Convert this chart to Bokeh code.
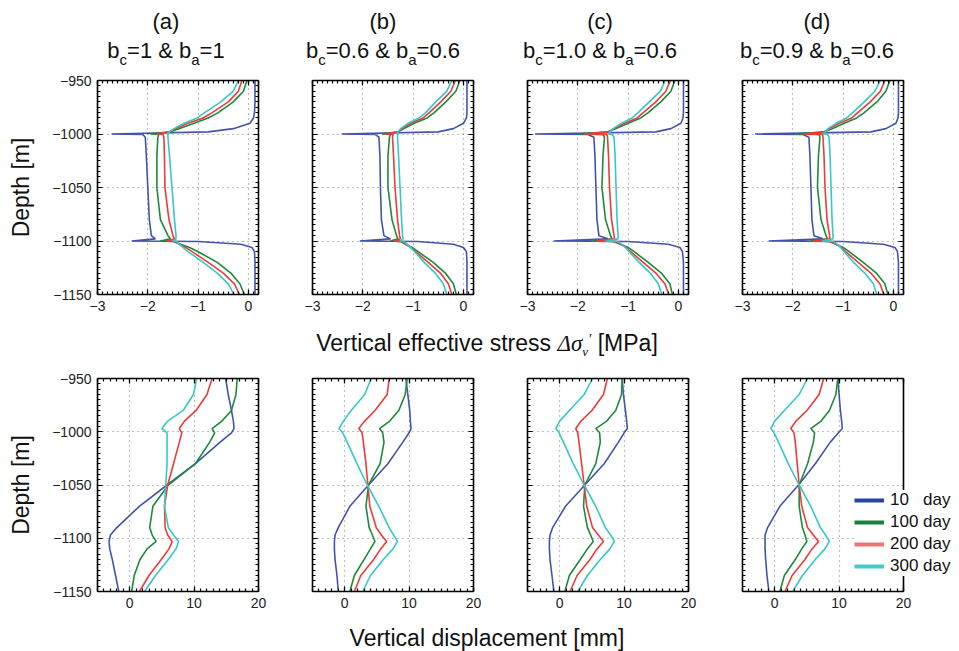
import numpy as np
from bokeh.plotting import figure
from bokeh.models import Range1d, LinearAxis, FixedTicker, Legend, LegendItem, Div, Span
from bokeh.layouts import column, row
from bokeh.embed import file_html
from bokeh.resources import INLINE

FONT = "Liberation Sans"

# ---------------- data ----------------
PANEL_TAGS = ["(a)", "(b)", "(c)", "(d)"]
BC_VALUES = ["1", "0.6", "1.0", "0.9"]
BA_VALUES = ["1", "0.6", "0.6", "0.6"]
DAY_LABELS = ["10   day", "100 day", "200 day", "300 day"]
COLORS = ["#4453aa", "#1d8a3b", "#ee3a3a", "#36c8c8"]
LEGEND_COLORS = ["#2446a0", "#17833a", "#f07474", "#48c9c9"]

Y_TICKS = [-1150, -1100, -1050, -1000, -950]
STRESS_TICKS = [-3, -2, -1, 0]
DISP_TICKS = [0, 10, 20]

# vertical effective stress [MPa] vs depth [m]
STRESS_DEPTH = [-950, -960, -970, -980, -985, -990, -995, -998, -1000, -1000.5, -1003, -1020, -1050,
                -1080, -1095, -1098, -1100, -1100.5, -1103, -1106, -1110, -1120, -1130, -1140, -1150]

stress_a_10 = [0.13, 0.13, 0.13, 0.12, 0.10, 0.03, -0.30, -0.80, -2.72, -2.10, -2.05, -2.03, -2.00,
               -1.97, -1.93, -1.85, -2.32, -1.00, -0.15, 0.07, 0.12, 0.13, 0.13, 0.13, 0.13]
stress_a_100 = [-0.03, -0.10, -0.30, -0.60, -0.80, -1.08, -1.38, -1.55, -1.95, -1.78, -1.80, -1.82, -1.82,
                -1.75, -1.60, -1.55, -1.75, -1.50, -1.35, -1.17, -1.00, -0.62, -0.35, -0.17, -0.08]
stress_a_200 = [-0.13, -0.20, -0.40, -0.72, -0.90, -1.20, -1.45, -1.58, -1.82, -1.70, -1.68, -1.67, -1.66,
                -1.58, -1.50, -1.47, -1.62, -1.45, -1.38, -1.25, -1.12, -0.80, -0.50, -0.28, -0.18]
stress_a_300 = [-0.20, -0.30, -0.55, -0.87, -1.02, -1.28, -1.48, -1.57, -1.62, -1.60, -1.60, -1.57, -1.52,
                -1.47, -1.44, -1.44, -1.50, -1.42, -1.38, -1.30, -1.20, -0.90, -0.62, -0.40, -0.29]

stress_b_10 = [0.07, 0.07, 0.07, 0.07, 0.06, 0.00, -0.20, -0.50, -2.42, -1.75, -1.68, -1.66, -1.65,
               -1.63, -1.58, -1.45, -2.06, -0.90, -0.20, 0.00, 0.06, 0.07, 0.07, 0.07, 0.07]
stress_b_100 = [-0.07, -0.15, -0.35, -0.58, -0.72, -0.98, -1.18, -1.30, -1.62, -1.45, -1.47, -1.50, -1.50,
                -1.42, -1.33, -1.30, -1.45, -1.25, -1.15, -1.02, -0.90, -0.60, -0.36, -0.20, -0.14]
stress_b_200 = [-0.16, -0.25, -0.45, -0.68, -0.80, -1.05, -1.22, -1.30, -1.55, -1.40, -1.41, -1.39, -1.36,
                -1.31, -1.27, -1.25, -1.38, -1.22, -1.15, -1.05, -0.95, -0.70, -0.46, -0.30, -0.23]
stress_b_300 = [-0.23, -0.33, -0.55, -0.75, -0.88, -1.10, -1.25, -1.30, -1.32, -1.31, -1.31, -1.29, -1.26,
                -1.23, -1.21, -1.20, -1.25, -1.18, -1.12, -1.05, -0.97, -0.78, -0.56, -0.40, -0.33]

stress_c_10 = [0.10, 0.10, 0.10, 0.10, 0.09, 0.05, -0.15, -0.45, -2.85, -1.80, -1.68, -1.66, -1.64,
               -1.62, -1.58, -1.40, -2.48, -1.00, -0.20, 0.03, 0.08, 0.10, 0.10, 0.10, 0.10]
stress_c_100 = [-0.07, -0.15, -0.35, -0.60, -0.75, -1.00, -1.25, -1.40, -2.00, -1.50, -1.47, -1.50, -1.52,
                -1.45, -1.35, -1.32, -1.70, -1.30, -1.15, -1.00, -0.88, -0.60, -0.34, -0.17, -0.12]
stress_c_200 = [-0.16, -0.25, -0.45, -0.70, -0.82, -1.07, -1.28, -1.38, -1.88, -1.42, -1.41, -1.39, -1.37,
                -1.33, -1.28, -1.27, -1.63, -1.25, -1.15, -1.05, -0.95, -0.70, -0.45, -0.27, -0.19]
stress_c_300 = [-0.26, -0.36, -0.58, -0.80, -0.92, -1.13, -1.30, -1.36, -1.40, -1.32, -1.28, -1.26, -1.24,
                -1.22, -1.20, -1.20, -1.45, -1.20, -1.13, -1.05, -0.98, -0.78, -0.56, -0.40, -0.33]

stress_d_10 = [0.10, 0.10, 0.10, 0.10, 0.09, 0.05, -0.15, -0.45, -2.75, -1.80, -1.68, -1.66, -1.64,
               -1.62, -1.58, -1.40, -2.48, -1.00, -0.20, 0.03, 0.08, 0.10, 0.10, 0.10, 0.10]
stress_d_100 = [-0.07, -0.15, -0.33, -0.58, -0.73, -0.98, -1.22, -1.38, -1.95, -1.48, -1.46, -1.49, -1.51,
                -1.44, -1.34, -1.31, -1.65, -1.28, -1.14, -1.00, -0.88, -0.60, -0.34, -0.17, -0.11]
stress_d_200 = [-0.17, -0.26, -0.46, -0.71, -0.83, -1.08, -1.28, -1.37, -1.80, -1.41, -1.40, -1.38, -1.36,
                -1.32, -1.27, -1.26, -1.60, -1.24, -1.14, -1.04, -0.95, -0.70, -0.45, -0.27, -0.19]
stress_d_300 = [-0.26, -0.37, -0.58, -0.81, -0.93, -1.14, -1.30, -1.35, -1.40, -1.31, -1.28, -1.26, -1.24,
                -1.22, -1.20, -1.20, -1.42, -1.19, -1.12, -1.05, -0.98, -0.79, -0.57, -0.40, -0.33]

# vertical displacement [mm] vs depth [m]
DISP_DEPTH = [-950, -965, -980, -990, -997, -1001, -1010, -1030, -1050, -1070, -1090, -1097, -1103,
              -1110, -1120, -1135, -1150]

disp_a_10 = [14.9, 15.3, 15.8, 16.1, 16.2, 15.8, 14.0, 10.2, 5.8, 1.5, -2.0, -3.0, -3.2, -3.1, -2.7, -2.2, -1.7]
disp_a_100 = [16.7, 16.5, 15.8, 14.3, 12.8, 13.2, 12.4, 10.2, 6.0, 3.6, 3.1, 3.5, 4.1, 2.7, 1.6, 0.7, 0.3]
disp_a_200 = [12.8, 12.0, 10.3, 8.5, 7.7, 8.1, 7.7, 6.8, 5.9, 5.4, 5.5, 5.9, 6.6, 6.1, 4.9, 3.0, 1.5]
disp_a_300 = [10.4, 9.9, 8.3, 5.9, 5.0, 5.8, 5.8, 5.8, 5.6, 5.4, 6.0, 6.8, 7.6, 7.2, 6.0, 4.0, 2.3]

disp_b_10 = [9.5, 9.8, 10.1, 10.2, 10.3, 10.0, 9.0, 6.7, 3.7, 0.8, -1.0, -1.5, -1.6, -1.6, -1.5, -1.2, -1.0]
disp_b_100 = [9.7, 9.4, 8.4, 7.0, 5.4, 5.9, 6.1, 5.5, 3.7, 3.3, 3.8, 4.3, 4.7, 4.0, 3.0, 1.5, 0.8]
disp_b_200 = [6.9, 6.6, 4.7, 3.1, 2.2, 2.7, 2.9, 3.3, 3.6, 3.9, 4.9, 5.7, 6.5, 5.6, 4.5, 2.5, 1.5]
disp_b_300 = [4.1, 3.1, 1.0, -0.2, -0.9, -0.3, 0.4, 1.9, 3.5, 5.3, 6.9, 7.6, 8.2, 7.5, 6.0, 4.0, 2.8]

disp_c_10 = [9.7, 9.9, 10.2, 10.4, 10.5, 10.0, 9.1, 6.9, 3.9, 0.9, -1.1, -1.5, -1.6, -1.6, -1.5, -1.2, -0.9]
disp_c_100 = [9.7, 9.6, 8.7, 7.3, 5.6, 6.2, 6.3, 5.6, 3.9, 3.7, 4.3, 4.8, 5.2, 4.3, 3.2, 1.5, 0.8]
disp_c_200 = [7.4, 6.8, 5.0, 3.3, 2.5, 2.8, 3.0, 3.4, 3.8, 4.2, 5.1, 6.0, 6.8, 5.8, 4.7, 2.7, 1.6]
disp_c_300 = [5.1, 3.8, 1.5, 0.0, -0.6, -0.1, 0.6, 2.1, 3.8, 5.6, 7.1, 7.9, 8.5, 7.8, 6.3, 4.3, 2.8]

disp_d_10 = [9.8, 10.0, 10.2, 10.4, 10.5, 9.9, 8.6, 6.3, 3.7, 0.8, -1.1, -1.5, -1.5, -1.5, -1.4, -1.2, -0.9]
disp_d_100 = [9.8, 9.5, 8.5, 7.2, 5.6, 6.2, 6.0, 5.1, 3.8, 3.8, 4.3, 4.7, 5.0, 4.2, 3.2, 1.5, 0.8]
disp_d_200 = [7.6, 6.9, 5.0, 3.3, 2.5, 3.0, 3.2, 3.5, 3.8, 4.2, 5.1, 6.0, 6.8, 5.8, 4.7, 2.7, 1.6]
disp_d_300 = [5.1, 3.8, 1.5, 0.0, -0.6, -0.1, 0.6, 2.1, 3.8, 5.6, 7.1, 7.9, 8.5, 7.8, 6.3, 4.3, 2.8]

STRESS = [
    [stress_a_10, stress_a_100, stress_a_200, stress_a_300],
    [stress_b_10, stress_b_100, stress_b_200, stress_b_300],
    [stress_c_10, stress_c_100, stress_c_200, stress_c_300],
    [stress_d_10, stress_d_100, stress_d_200, stress_d_300],
]
DISP = [
    [disp_a_10, disp_a_100, disp_a_200, disp_a_300],
    [disp_b_10, disp_b_100, disp_b_200, disp_b_300],
    [disp_c_10, disp_c_100, disp_c_200, disp_c_300],
    [disp_d_10, disp_d_100, disp_d_200, disp_d_300],
]

# ---------------- layout geometry (page has no margin in Bokeh's template) ----------------
LEFT_B = [97, 44, 44, 44]
RIGHT_B = [10, 10, 10, 55]
FRAME_W = 161
EXTRA_W = 52          # bottom-right panel frame is widened so its legend is not clipped


def minus(v):
    return ("%g" % v).replace("-", "\u2212")


def style_axis(ax, ticks, minor, show_labels, size="14px"):
    ax.ticker = FixedTicker(ticks=ticks, minor_ticks=minor)
    ax.axis_line_color = "black"
    ax.axis_line_width = 1.6
    ax.major_tick_in = 5
    ax.major_tick_out = 0
    ax.minor_tick_in = 3
    ax.minor_tick_out = 0
    ax.major_tick_line_color = "black"
    ax.minor_tick_line_color = "black"
    ax.major_tick_line_width = 1.2
    ax.minor_tick_line_width = 1.2
    ax.major_label_text_font = FONT
    ax.major_label_text_font_size = size
    ax.major_label_text_color = "#222222"
    ax.major_label_standoff = 6
    if show_labels:
        ax.major_label_overrides = {t: minus(t) for t in ticks}
    else:
        ax.major_label_overrides = {t: "" for t in ticks}
        ax.major_label_text_font_size = "0px"
        ax.major_label_standoff = 0


def make_panel(col, xr, xticks, xminor, top_b, bot_b, frame_h, depth, series, with_legend):
    extra = EXTRA_W if with_legend else 0
    rb = 3 if with_legend else RIGHT_B[col]
    w = LEFT_B[col] + FRAME_W + extra + rb
    h = top_b + frame_h + bot_b
    x_end = xr[1] + (xr[1] - xr[0]) * extra / FRAME_W
    p = figure(width=w, height=h, x_range=Range1d(xr[0], x_end), y_range=Range1d(-1150, -950),
               output_backend="svg", toolbar_location=None,
               min_border_left=LEFT_B[col], min_border_right=rb,
               min_border_top=top_b, min_border_bottom=bot_b)
    p.outline_line_color = None
    p.background_fill_color = "white"
    p.border_fill_color = "white"
    yminor = list(range(-1150, -949, 5))
    bottom_ax = p.below[0]
    left_ax = p.left[0]
    style_axis(bottom_ax, xticks, xminor, True)
    style_axis(left_ax, Y_TICKS, yminor, col == 0)
    if col == 0:
        left_ax.axis_label = "Depth [m]"
        left_ax.axis_label_text_font = FONT
        left_ax.axis_label_text_font_size = "23px"
        left_ax.axis_label_text_font_style = "normal"
        left_ax.axis_label_text_color = "#111111"
        left_ax.axis_label_standoff = 15
    top_ax = LinearAxis()
    style_axis(top_ax, xticks, xminor, False)
    p.add_layout(top_ax, "above")
    if with_legend:
        bottom_ax.bounds = xr
        top_ax.bounds = xr
    else:
        right_ax = LinearAxis()
        style_axis(right_ax, Y_TICKS, yminor, False)
        p.add_layout(right_ax, "right")
    for g in p.grid:
        g.grid_line_color = "#555555"
        g.grid_line_alpha = 0.75
        g.grid_line_dash = "1 4"
        g.grid_line_width = 1.2
    p.xgrid.ticker = FixedTicker(ticks=xticks)
    p.ygrid.ticker = FixedTicker(ticks=Y_TICKS)
    if with_legend:
        for g in p.ygrid:
            try:
                g.cross_bounds = xr
            except Exception:
                pass
    for k in range(4):
        p.line(x=series[k], y=depth, line_color=COLORS[k], line_width=1.6)
    if with_legend:
        p.add_layout(Span(location=xr[1], dimension="height", line_color="black", line_width=1.6))
        items = []
        for k in range(4):
            r = p.line(x=np.array([np.nan]), y=np.array([np.nan]), line_color=LEGEND_COLORS[k], line_width=4)
            items.append(LegendItem(label=DAY_LABELS[k], renderers=[r]))
        leg = Legend(items=items, location=(112, 15))
        leg.label_text_font = FONT
        leg.label_text_font_size = "17px"
        leg.label_text_color = "#111111"
        leg.glyph_width = 30
        leg.glyph_height = 20
        leg.label_height = 20
        leg.label_standoff = 6
        leg.spacing = 2
        leg.padding = 3
        leg.margin = 0
        leg.border_line_color = None
        leg.background_fill_color = "white"
        leg.background_fill_alpha = 1.0
        p.add_layout(leg)
    return p


stress_minor = [round(-3 + 0.1 * i, 2) for i in range(33)]
disp_minor = list(range(-5, 21, 1))

top_figs = [make_panel(c, (-3, 0.2), STRESS_TICKS, stress_minor, 10, 30, 214,
                       STRESS_DEPTH, STRESS[c], False) for c in range(4)]
bot_figs = [make_panel(c, (-5, 20), DISP_TICKS, disp_minor, 18, 30, 213,
                       DISP_DEPTH, DISP[c], c == 3) for c in range(4)]

TOTAL_W = sum(f.width for f in top_figs)

sub = "font-size:15px;position:relative;top:7px"
title_centers = [166, 383, 600, 817]
parts = []
for i in range(4):
    c = title_centers[i]
    parts.append(
        '<div style="position:absolute;left:%dpx;top:7px;width:240px;text-align:center;'
        'line-height:29px;white-space:nowrap">%s<br>b<span style="%s">c</span>=%s &amp; '
        'b<span style="%s">a</span>=%s</div>' % (c - 120, PANEL_TAGS[i], sub, BC_VALUES[i], sub, BA_VALUES[i]))
title_html = ('<div style="position:relative;width:%dpx;height:70px;font-family:\'%s\';'
              'font-size:22px;color:#111111">%s</div>' % (TOTAL_W, FONT, "".join(parts)))
title_div = Div(text=title_html, width=TOTAL_W, height=70, margin=(0, 0, 0, 0))

mid_html = ('<div style="position:relative;width:%dpx;height:36px;font-family:\'%s\';font-size:23px;'
            'color:#111111"><div style="position:absolute;left:137px;top:7px;width:700px;'
            'text-align:center;line-height:24px;white-space:nowrap">Vertical effective stress '
            '<span style="font-family:\'Liberation Serif\';font-style:italic">&Delta;&sigma;'
            '<span style="font-size:13px;position:relative;top:5px">v</span>'
            '<span style="font-size:15px;position:relative;top:-7px">&prime;</span></span>'
            ' [MPa]</div></div>' % (TOTAL_W, FONT))
mid_div = Div(text=mid_html, width=TOTAL_W, height=36, margin=(0, 0, 0, 0))

bot_html = ('<div style="position:relative;width:%dpx;height:29px;font-family:\'%s\';font-size:23px;'
            'color:#111111"><div style="position:absolute;left:137px;top:5px;width:700px;'
            'text-align:center;line-height:24px;white-space:nowrap">Vertical displacement [mm]</div></div>'
            % (TOTAL_W, FONT))
bot_div = Div(text=bot_html, width=TOTAL_W, height=29, margin=(0, 0, 0, 0))

layout = column(title_div, row(*top_figs, spacing=0), mid_div, row(*bot_figs, spacing=0), bot_div,
                spacing=0)

open("out.html", "w").write(file_html(layout, INLINE))
